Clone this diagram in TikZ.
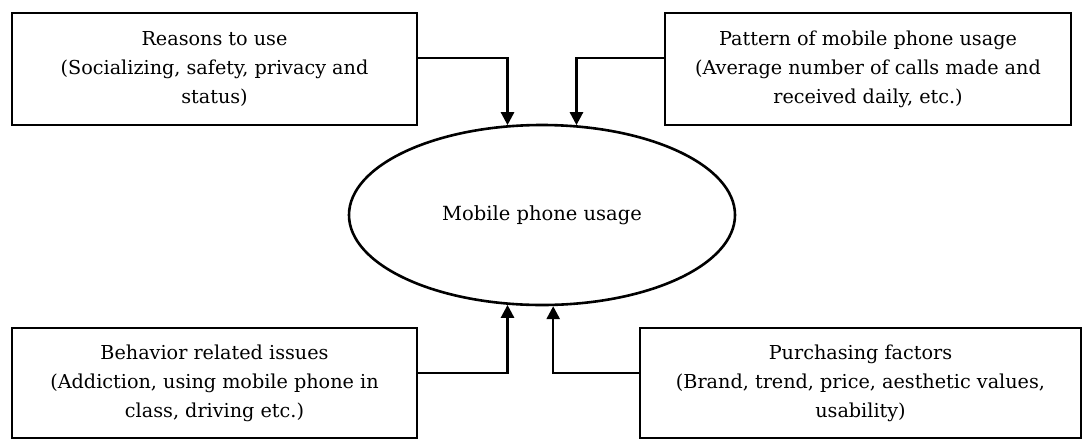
\documentclass[tikz,border=0pt]{standalone}
\usepackage{fontspec}
\setmainfont{DejaVu Serif}
\usetikzlibrary{arrows.meta,shapes.geometric}

\tikzset{
  infobox/.style={draw, line width=2.8pt, rectangle, inner sep=0pt,
    minimum height=112pt, align=center,
    font=\fontsize{19.2}{29}\selectfont},
  hub/.style={draw, line width=2.6pt, ellipse, inner sep=0pt,
    minimum width=386pt, minimum height=180pt,
    font=\fontsize{19.5}{29}\selectfont},
  link/.style={line width=2.6pt,
    -{Triangle[width=13pt,length=13pt]}}
}

\begin{document}
\begin{tikzpicture}[x=1pt,y=-1pt]
  \useasboundingbox (0,0) rectangle (1084,440);

  % central concept
  \node[hub] (mid) at (542,215) {Mobile phone usage};

  % four influencing factors
  \node[infobox, minimum width=405pt] (reasons) at (214.5,69)
    {Reasons to use\\(Socializing, safety, privacy and\\status)};
  \node[infobox, minimum width=406pt] (pattern) at (868,69)
    {Pattern of mobile phone usage\\(Average number of calls made and\\received daily, etc.)};
  \node[infobox, minimum width=405pt, minimum height=110pt] (behavior) at (214.5,383)
    {Behavior related issues\\(Addiction, using mobile phone in\\class, driving etc.)};
  \node[infobox, minimum width=441pt, minimum height=110pt] (purchase) at (860.5,383)
    {Purchasing factors\\(Brand, trend, price, aesthetic values,\\usability)};

  % elbow connectors into the ellipse
  \draw[link] (reasons.east |- {(0,58)}) -| (mid.111.6);
  \draw[link] (pattern.west |- {(0,58)}) -| (mid.69.6);
  \draw[link] (behavior.east |- {(0,373)}) -| (mid.249);
  \draw[link] (purchase.west |- {(0,373)}) -| (mid.277);
\end{tikzpicture}
\end{document}
